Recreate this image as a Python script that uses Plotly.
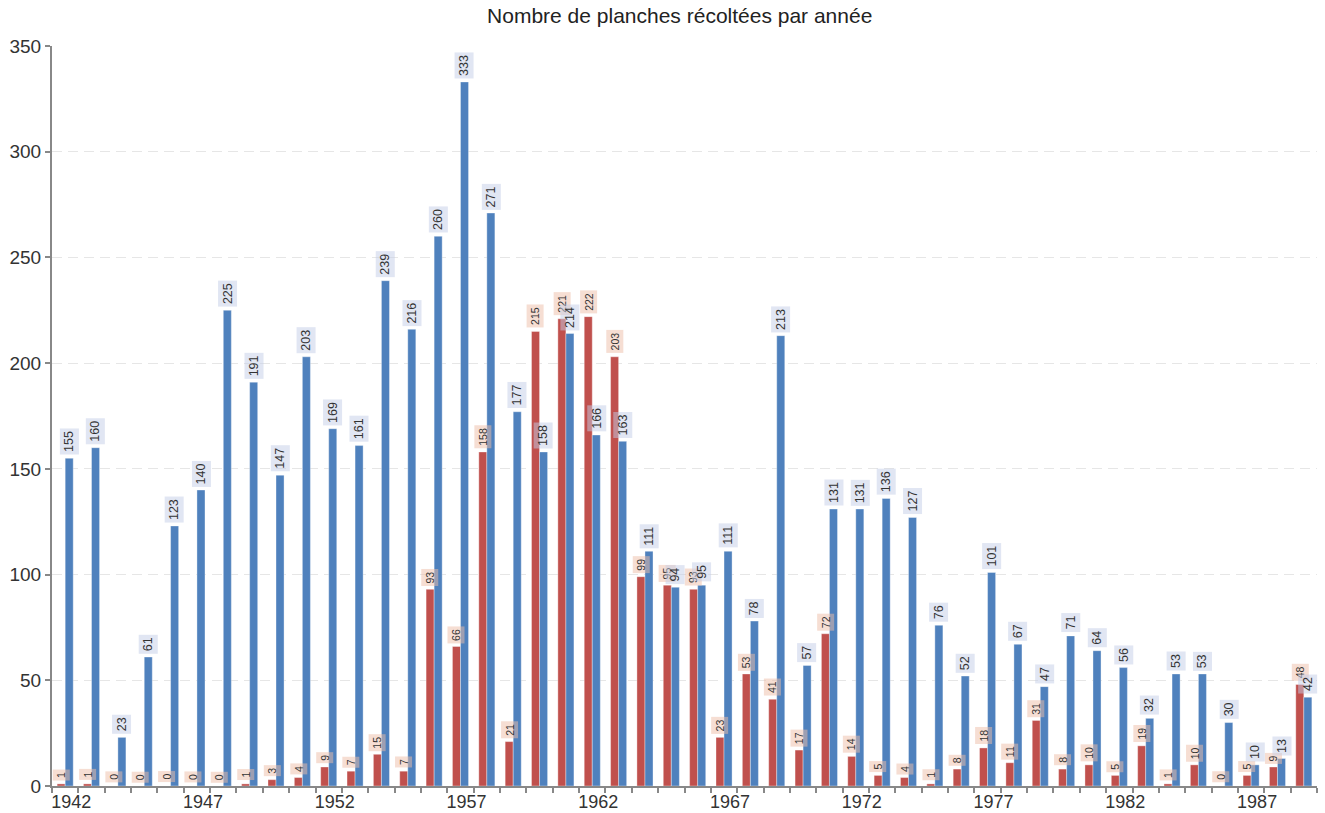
import plotly.graph_objects as go

# Harvest counts per year, 1942-1989
years = list(range(1942, 1990))
red_values = [1, 1, 0, 0, 0, 0, 0, 1, 3, 4, 9, 7, 15, 7, 93, 66, 158, 21, 215, 221,
              222, 203, 99, 95, 93, 23, 53, 41, 17, 72, 14, 5, 4, 1, 8, 18, 11, 31, 8, 10,
              5, 19, 1, 10, 0, 5, 9, 48]
blue_values = [155, 160, 23, 61, 123, 140, 225, 191, 147, 203, 169, 161, 239, 216, 260, 333,
               271, 177, 158, 214, 166, 163, 111, 94, 95, 111, 78, 213, 57, 131, 131, 136,
               127, 76, 52, 101, 67, 47, 71, 64, 56, 32, 53, 53, 30, 10, 13, 42]
tick_years = list(range(1942, 1990, 5))

RED = "#c0504d"
BLUE = "#4f81bd"
BARGAP = 0.39
half_w = (1 - BARGAP) / 4  # centre offset of each bar within its year slot
FONT = "Liberation Sans, Arial, sans-serif"

fig = go.Figure()
fig.add_bar(x=years, y=red_values, marker=dict(color=RED, line=dict(color="rgba(255,255,255,0.35)", width=1)),
            name="rouge", hoverinfo="x+y")
fig.add_bar(x=years, y=blue_values, marker=dict(color=BLUE, line=dict(color="rgba(255,255,255,0.35)", width=1)),
            name="bleu", hoverinfo="x+y")

annotations = []
for yr, v in zip(years, red_values):
    annotations.append(dict(
        x=yr - half_w, y=v, xref="x", yref="y", text=str(v), showarrow=False,
        textangle=-90, xanchor="center", yanchor="bottom", yshift=3,
        font=dict(size=10.5, color="#333", family=FONT),
        bgcolor="rgba(238,190,168,0.5)", borderpad=2,
    ))
for yr, v in zip(years, blue_values):
    annotations.append(dict(
        x=yr + half_w, y=v, xref="x", yref="y", text=str(v), showarrow=False,
        textangle=-90, xanchor="center", yanchor="bottom", yshift=3,
        font=dict(size=12.5, color="#333", family=FONT),
        bgcolor="rgba(196,205,232,0.5)", borderpad=2,
    ))

fig.update_layout(
    width=1325, height=813,
    margin=dict(l=52, r=8, t=46, b=27),
    paper_bgcolor="white", plot_bgcolor="white",
    barmode="group", bargap=BARGAP, bargroupgap=0,
    showlegend=False,
    font=dict(family=FONT, color="#333", size=18),
    title=dict(text="Nombre de planches récoltées par année", x=0.513, xanchor="center",
               y=1 - 16 / 813, yref="container", yanchor="middle",
               font=dict(size=21, color="#222")),
    annotations=annotations,
)
fig.update_xaxes(
    range=[1941.5, 1989.5], tickmode="array", tickvals=tick_years,
    ticktext=[str(t) for t in tick_years], ticks="", ticklabelshift=6, ticklabelstandoff=-2,
    automargin=False,
    showline=True, linecolor="#888", linewidth=2, showgrid=False, zeroline=False,
    minor=dict(tickmode="linear", tick0=1941.5, dtick=1, ticks="outside",
               ticklen=5, tickwidth=2, tickcolor="#888", showgrid=False),
    tickfont=dict(size=18, color="#333"),
)
fig.update_yaxes(
    range=[0, 350], dtick=50, ticks="outside", ticklen=5, tickwidth=2, tickcolor="#888",
    showline=True, linecolor="#888", linewidth=2, zeroline=False, automargin=False,
    showgrid=True, gridcolor="#e6e6e6", gridwidth=1, griddash="10px,6px",
    tickfont=dict(size=19, color="#333"),
)

fig.write_html("out.html")
